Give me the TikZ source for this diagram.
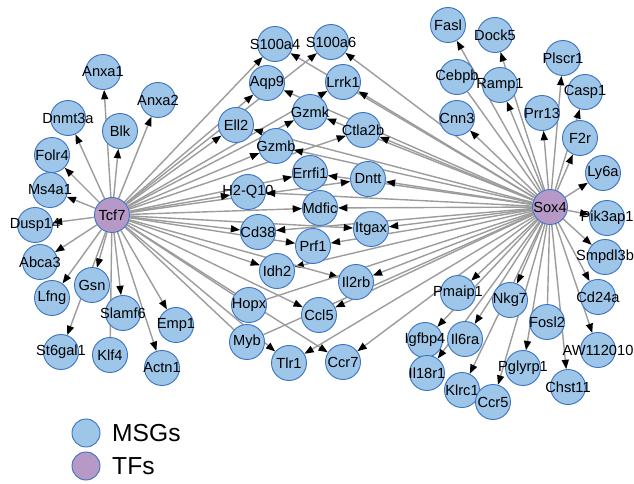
\documentclass[tikz,border=0pt]{standalone}
\usepackage{fontspec}
\setmainfont{Liberation Sans}
\usetikzlibrary{arrows.meta,backgrounds}
\definecolor{msgblue}{HTML}{9DC6E9}
\definecolor{msgedge}{HTML}{3E74C2}
\definecolor{tfpurple}{HTML}{B699C6}
\definecolor{linkgray}{HTML}{9C9C9C}

\begin{document}
\begin{tikzpicture}[x=0.03cm, y=-0.03cm,
    gene/.style={circle, draw=msgedge, line width=0.8pt, fill=msgblue, minimum size=1.05cm, inner sep=0pt,
      font=\fontsize{12.5}{13}\selectfont,
      execute at begin node={\hbox to 0pt\bgroup\hss}, execute at end node={\hss\egroup}},
    tf/.style={gene, fill=tfpurple},
    edge/.style={draw=linkgray, line width=1.2pt, -{Triangle[color=black, length=0.28cm, width=0.21cm]}},
    link/.style={draw=linkgray, line width=1.2pt},
    key/.style={circle, draw=msgedge, line width=0.8pt, minimum size=0.84cm, inner sep=0pt},
    keytext/.style={anchor=west, inner sep=0pt, font=\fontsize{21}{24}\selectfont}
  ]
    \useasboundingbox (0,0) rectangle (634,484);

    % transcription factors
    \node[tf] (tcf7) at (112,215) {Tcf7};
    \node[tf] (sox4) at (550,207) {Sox4};

    % Tcf7 only
    \node[gene] (anxa1) at (103,72) {Anxa1};
    \node[gene] (anxa2) at (158,100) {Anxa2};
    \node[gene] (dnmt3a) at (68,118) {Dnmt3a};
    \node[gene] (blk) at (120,131) {Blk};
    \node[gene] (folr4) at (52,155) {Folr4};
    \node[gene] (ms4a1) at (50,190) {Ms4a1};
    \node[gene] (dusp14) at (35,225) {Dusp14};
    \node[gene] (abca3) at (40,262) {Abca3};
    \node[gene] (lfng) at (52,298) {Lfng};
    \node[gene] (gsn) at (92,285) {Gsn};
    \node[gene] (slamf6) at (123,313) {Slamf6};
    \node[gene] (emp1) at (176,325) {Emp1};
    \node[gene] (st6gal1) at (61,352) {St6gal1};
    \node[gene] (klf4) at (110,355) {Klf4};
    \node[gene] (actn1) at (162,368) {Actn1};

    % shared
    \node[gene] (s100a4) at (275,44) {S100a4};
    \node[gene] (s100a6) at (331,42) {S100a6};
    \node[gene] (aqp9) at (267,83) {Aqp9};
    \node[gene] (lrrk1) at (343,82) {Lrrk1};
    \node[gene] (ell2) at (236,125) {Ell2};
    \node[gene] (gzmk) at (310,112) {Gzmk};
    \node[gene] (ctla2b) at (363,130) {Ctla2b};
    \node[gene] (gzmb) at (276,146) {Gzmb};
    \node[gene] (errfi1) at (310,173) {Errfi1};
    \node[gene] (dntt) at (368,179) {Dntt};
    \node[gene] (h2q10) at (248,192) {H2-Q10};
    \node[gene] (mdfic) at (320,208) {Mdfic};
    \node[gene] (cd38) at (258,232) {Cd38};
    \node[gene] (itgax) at (371,229) {Itgax};
    \node[gene] (prf1) at (313,246) {Prf1};
    \node[gene] (idh2) at (277,271) {Idh2};
    \node[gene] (il2rb) at (356,282) {Il2rb};
    \node[gene] (hopx) at (249,305) {Hopx};
    \node[gene] (ccl5) at (319,315) {Ccl5};
    \node[gene] (myb) at (247,342) {Myb};
    \node[gene] (tlr1) at (289,363) {Tlr1};
    \node[gene] (ccr7) at (343,362) {Ccr7};

    % Sox4 only
    \node[gene] (fasl) at (448,25) {Fasl};
    \node[gene] (dock5) at (495,35) {Dock5};
    \node[gene] (plscr1) at (563,58) {Plscr1};
    \node[gene] (cebpb) at (457,77) {Cebpb};
    \node[gene] (ramp1) at (500,85) {Ramp1};
    \node[gene] (casp1) at (585,92) {Casp1};
    \node[gene] (cnn3) at (457,118) {Cnn3};
    \node[gene] (prr13) at (542,113) {Prr13};
    \node[gene] (f2r) at (580,138) {F2r};
    \node[gene] (ly6a) at (603,173) {Ly6a};
    \node[gene] (pik3ap1) at (607,218) {Pik3ap1};
    \node[gene] (smpdl3b) at (605,257) {Smpdl3b};
    \node[gene] (cd24a) at (598,297) {Cd24a};
    \node[gene] (pmaip1) at (458,293) {Pmaip1};
    \node[gene] (nkg7) at (510,300) {Nkg7};
    \node[gene] (fosl2) at (547,322) {Fosl2};
    \node[gene] (aw112010) at (598,350) {AW112010};
    \node[gene] (igfbp4) at (425,340) {Igfbp4};
    \node[gene] (il6ra) at (465,339) {Il6ra};
    \node[gene] (il18r1) at (427,373) {Il18r1};
    \node[gene] (pglyrp1) at (523,368) {Pglyrp1};
    \node[gene] (chst11) at (568,387) {Chst11};
    \node[gene] (klrc1) at (462,390) {Klrc1};
    \node[gene] (ccr5) at (493,402) {Ccr5};

    % legend
    \node[key, fill=msgblue] (keymsg) at (86,433) {};
    \node[keytext] (keymsgtext) at (112,433) {MSGs};
    \node[key, fill=tfpurple] (keytf) at (86,466) {};
    \node[keytext] (keytftext) at (112,466) {TFs};

    \begin{scope}[on background layer]
      \foreach \g in {anxa1,anxa2,dnmt3a,blk,folr4,ms4a1,dusp14,abca3,lfng,gsn,slamf6,emp1,st6gal1,actn1}
        \draw[edge] (tcf7) -- (\g);
      \foreach \g in {fasl,dock5,plscr1,ramp1,casp1,cnn3,prr13,f2r,ly6a,pik3ap1,smpdl3b,cd24a,pmaip1,nkg7,aw112010,igfbp4,il6ra,il18r1,pglyrp1,chst11,klrc1,ccr5}
        \draw[edge] (sox4) -- (\g);
      \foreach \g in {s100a4,s100a6,aqp9,lrrk1,ell2,gzmk,ctla2b,gzmb,errfi1,dntt,h2q10,mdfic,cd38,itgax,prf1,idh2,il2rb,ccl5,tlr1,ccr7} {
        \draw[edge] (tcf7) -- (\g);
        \draw[edge] (sox4) -- (\g);
      }
      % no arrow heads
      \foreach \g in {klf4,hopx,myb}
        \draw[link] (tcf7) -- (\g);
      \foreach \g in {cebpb,fosl2,hopx,myb}
        \draw[link] (sox4) -- (\g);
    \end{scope}
  \end{tikzpicture}
\end{document}
